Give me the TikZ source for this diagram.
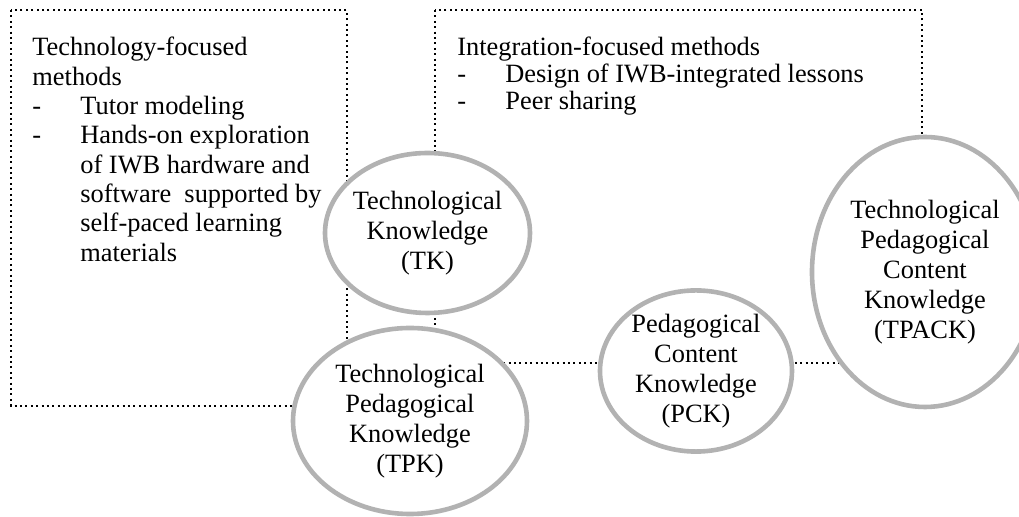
\documentclass[tikz,border=0pt]{standalone}
\usepackage{fontspec}
\setmainfont{Liberation Serif}
\usetikzlibrary{shapes.geometric, positioning}

\tikzset{
  dotbox/.style={line width=1pt, dash pattern=on 1pt off 1.7pt},
  know/.style={ellipse, draw=gray!60, line width=2.3pt, fill=white, align=center, inner sep=0pt, font=\fontsize{13.2}{15}\selectfont},
  methods/.style={anchor=north west, align=left, inner sep=0pt, font=\fontsize{13.2}{14.65}\selectfont}
}
\newcommand{\trat}{\makebox[24pt][l]{-}}

\begin{document}
\begin{tikzpicture}[x=0.5pt, y=-0.5pt]
    \useasboundingbox (0,0) rectangle (1019,517);

    % Riquadri dei metodi
    \draw[dotbox] (11,10) rectangle (347,406);
    \draw[dotbox] (435,10) rectangle (922,363);

    \node[methods] (techtext) at (32,37) {Technology-focused\\methods\\\trat Tutor modeling\\\trat Hands-on exploration\\\hspace*{24pt}of IWB hardware and\\\hspace*{24pt}software\ \ supported by\\\hspace*{24pt}self-paced learning\\\hspace*{24pt}materials};
    \node[methods, font=\fontsize{13.2}{13.4}\selectfont] (integtext) at (457,37) {Integration-focused methods\\\trat Design of IWB-integrated lessons\\\trat Peer sharing};

    % Conoscenze
    \node[know, minimum width=102.5pt, minimum height=80pt, inner xsep=-2pt] (tk) at (427.5,233) {Technological\\Knowledge\\(TK)};
    \node[know, minimum width=117pt, minimum height=93pt] (tpk) at (410,421) {Technological\\Pedagogical\\Knowledge\\(TPK)};
    \node[know, minimum width=96pt, minimum height=74pt] (pck) at (696,371) {Pedagogical\\Content\\Knowledge\\(PCK)};
    \node[know, minimum width=113pt, minimum height=135pt] (tpack) at (925,272) {Technological\\Pedagogical\\Content\\Knowledge\\(TPACK)};
\end{tikzpicture}
\end{document}
